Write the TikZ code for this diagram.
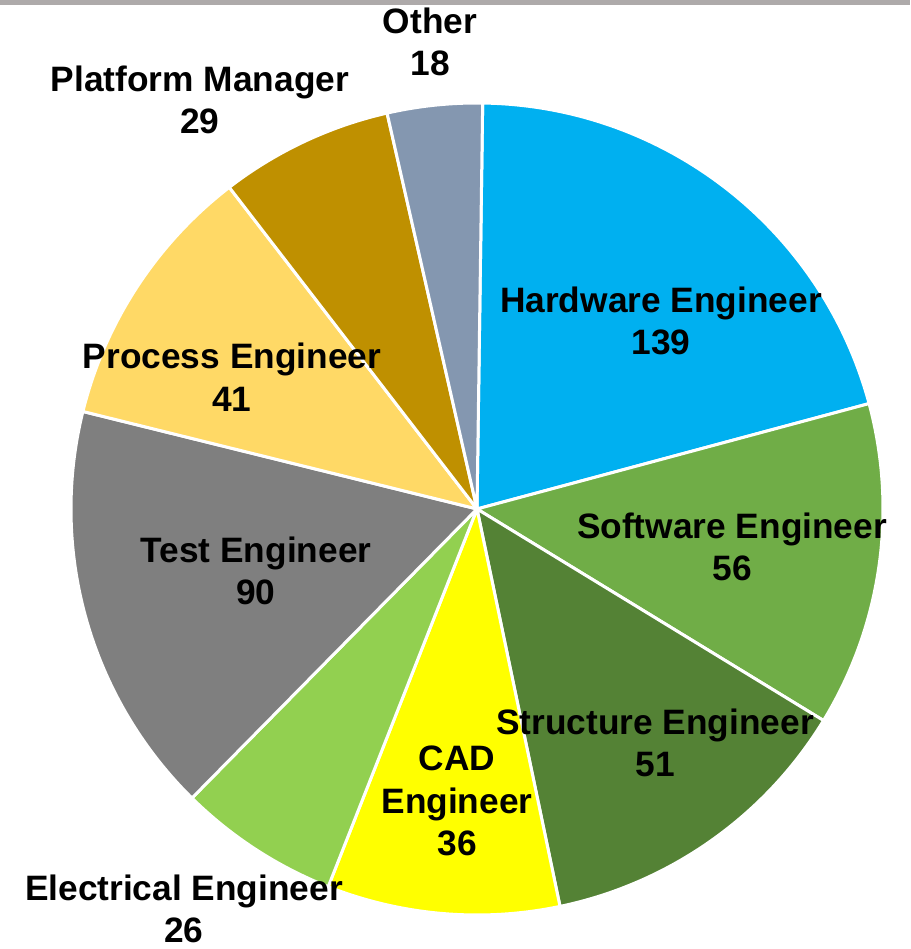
\documentclass[tikz,border=0pt]{standalone}
\usepackage{fontspec}
\setmainfont{Liberation Sans}
\definecolor{cHard}{HTML}{00B0F0}
\definecolor{cSoft}{HTML}{70AD47}
\definecolor{cStruct}{HTML}{548235}
\definecolor{cCAD}{HTML}{FFFF00}
\definecolor{cElec}{HTML}{92D050}
\definecolor{cTest}{HTML}{7F7F7F}
\definecolor{cProc}{HTML}{FFD966}
\definecolor{cPlat}{HTML}{BF9000}
\definecolor{cOther}{HTML}{8497B0}
\definecolor{cBar}{HTML}{AEAAAA}
\begin{document}
\begin{tikzpicture}[x=1pt,y=1pt,
  slice/.style={draw=white,line width=3pt,line join=round},
  lbl/.style={font=\fontsize{35.3}{42.5}\selectfont\bfseries,align=center,text=black,inner sep=0pt}]
\useasboundingbox (0,0) rectangle (910,949);
\fill[white] (0,0) rectangle (910,949);
\fill[cBar] (0,944) rectangle (910,949);
\coordinate (C) at (477,440);
\def\R{406}
\fill[cHard,slice] (C) -- ++(89.2:\R) arc[start angle=89.2,end angle=15.05,radius=\R] -- cycle;
\begin{scope}[shift={(1,-2)}]
\fill[cSoft,slice] (C) -- ++(15.05:\R) arc[start angle=15.05,end angle=-31.4,radius=\R] -- cycle;
\end{scope}
\fill[cStruct,slice] (C) -- ++(-31.4:\R) arc[start angle=-31.4,end angle=-78.2,radius=\R] -- cycle;
\fill[cCAD,slice] (C) -- ++(-78.2:\R) arc[start angle=-78.2,end angle=-111.5,radius=\R] -- cycle;
\fill[cElec,slice] (C) -- ++(-111.5:\R) arc[start angle=-111.5,end angle=-134.6,radius=\R] -- cycle;
\begin{scope}[shift={(-5,-3)}]
\fill[cTest,slice] (C) -- ++(-134.6:\R) arc[start angle=-134.6,end angle=-193.9,radius=\R] -- cycle;
\end{scope}
\fill[cProc,slice] (C) -- ++(166.1:\R) arc[start angle=166.1,end angle=127.6,radius=\R] -- cycle;
\fill[cPlat,slice] (C) -- ++(127.6:\R) arc[start angle=127.6,end angle=102.8,radius=\R] -- cycle;
\fill[cOther,slice] (C) -- ++(102.8:\R) arc[start angle=102.8,end angle=89.2,radius=\R] -- cycle;
\node[lbl] (lOther) at (430,907) {Other\\18};
\node[lbl] (lPlat) at (200,849) {Platform Manager\\29};
\node[lbl] (lHard) at (661,628) {Hardware Engineer\\139};
\node[lbl] (lProc) at (232,572) {Process Engineer\\41};
\node[lbl] (lSoft) at (732,402) {Software Engineer\\56};
\node[lbl] (lTest) at (256,378) {Test Engineer\\90};
\node[lbl] (lStruct) at (655,206) {Structure Engineer\\51};
\node[lbl] (lCAD) at (457,148) {CAD\\Engineer\\36};
\node[lbl] (lElec) at (184,40) {Electrical Engineer\\26};
\end{tikzpicture}
\end{document}
